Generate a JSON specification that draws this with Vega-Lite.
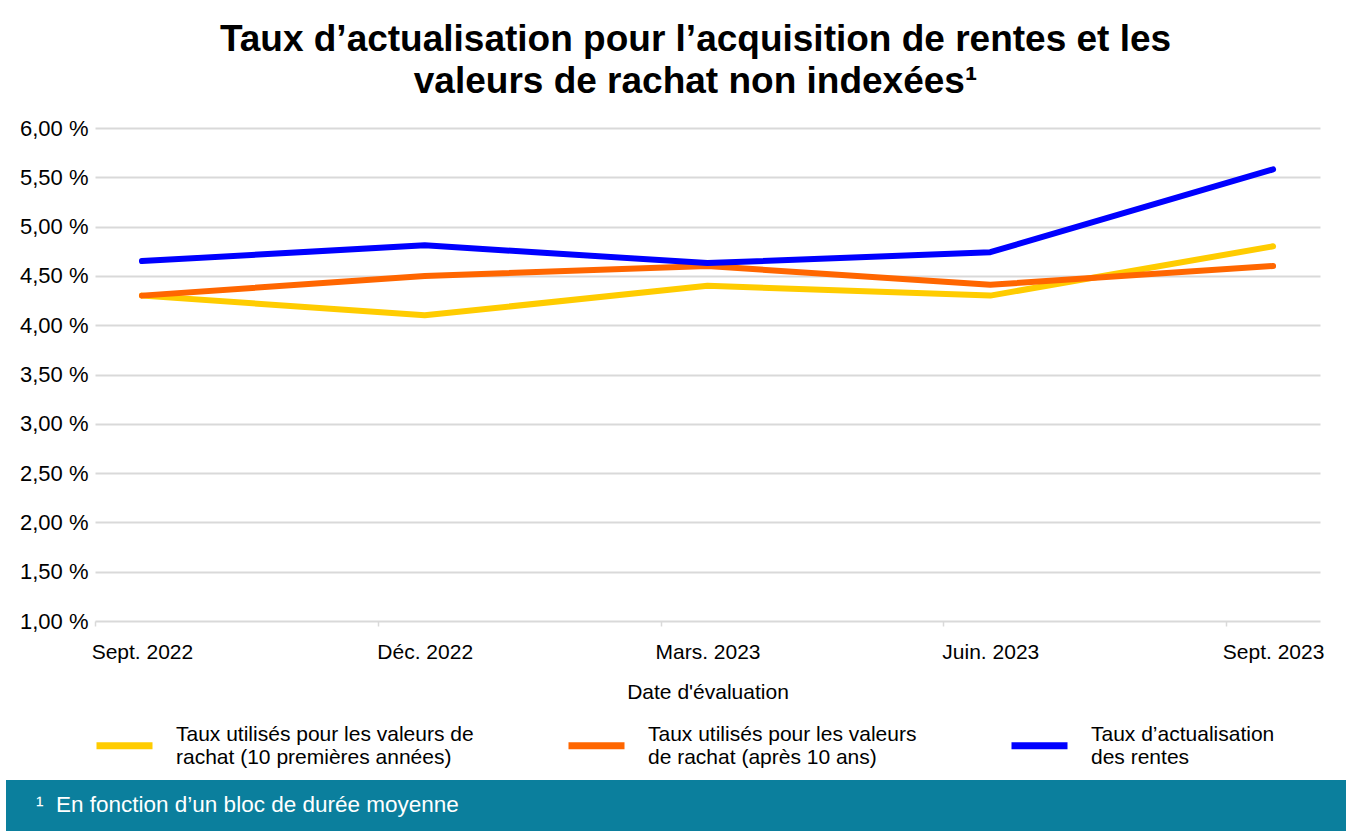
{
  "$schema": "https://vega.github.io/schema/vega-lite/v6.json",
  "padding": {"left": 6, "top": 21, "right": 0, "bottom": 0},
  "spacing": 78,
  "background": "white",
  "config": {"view": {"stroke": null}, "font": "Liberation Sans"},
  "vconcat": [
    {
      "spacing": 0,
      "hconcat": [
        {
          "width": 1,
          "height": 1,
          "data": {"values": [{}]},
          "mark": {"type": "text"},
          "encoding": {"text": {"value": ""}}
        },
        {
          "width": 1225,
          "height": 493,
          "title": {
            "text": ["Taux d’actualisation pour l’acquisition de rentes et les", "valeurs de rachat non indexées¹"],
            "fontSize": 37,
            "fontWeight": "bold",
            "font": "Liberation Sans",
            "color": "black",
            "anchor": "middle",
            "lineHeight": 42,
            "offset": 16,
            "dx": -12
          },
          "data": {
            "values": [
              {"date": "Sept. 2022", "serie": "Taux utilisés pour les valeurs de rachat (10 premières années)", "taux": 4.30},
              {"date": "Déc. 2022", "serie": "Taux utilisés pour les valeurs de rachat (10 premières années)", "taux": 4.10},
              {"date": "Mars. 2023", "serie": "Taux utilisés pour les valeurs de rachat (10 premières années)", "taux": 4.40},
              {"date": "Juin. 2023", "serie": "Taux utilisés pour les valeurs de rachat (10 premières années)", "taux": 4.30},
              {"date": "Sept. 2023", "serie": "Taux utilisés pour les valeurs de rachat (10 premières années)", "taux": 4.80},
              {"date": "Sept. 2022", "serie": "Taux utilisés pour les valeurs de rachat (après 10 ans)", "taux": 4.30},
              {"date": "Déc. 2022", "serie": "Taux utilisés pour les valeurs de rachat (après 10 ans)", "taux": 4.50},
              {"date": "Mars. 2023", "serie": "Taux utilisés pour les valeurs de rachat (après 10 ans)", "taux": 4.60},
              {"date": "Juin. 2023", "serie": "Taux utilisés pour les valeurs de rachat (après 10 ans)", "taux": 4.41},
              {"date": "Sept. 2023", "serie": "Taux utilisés pour les valeurs de rachat (après 10 ans)", "taux": 4.60},
              {"date": "Sept. 2022", "serie": "Taux d’actualisation des rentes", "taux": 4.65},
              {"date": "Déc. 2022", "serie": "Taux d’actualisation des rentes", "taux": 4.81},
              {"date": "Mars. 2023", "serie": "Taux d’actualisation des rentes", "taux": 4.63},
              {"date": "Juin. 2023", "serie": "Taux d’actualisation des rentes", "taux": 4.74},
              {"date": "Sept. 2023", "serie": "Taux d’actualisation des rentes", "taux": 5.58}
            ]
          },
          "mark": {"type": "line", "strokeWidth": 6, "strokeCap": "round", "strokeJoin": "round"},
          "encoding": {
            "x": {
              "field": "date",
              "type": "ordinal",
              "sort": ["Sept. 2022", "Déc. 2022", "Mars. 2023", "Juin. 2023", "Sept. 2023"],
              "scale": {"type": "point", "padding": 0.166},
              "axis": {
                "title": "Date d'évaluation",
                "labelAngle": 0,
                "labelFontSize": 21,
                "labelColor": "black",
                "titleFontSize": 21,
                "titleFontWeight": "normal",
                "titleColor": "black",
                "domain": false,
                "grid": false,
                "tickColor": "#d9d9d9",
                "tickSize": 5,
                "tickWidth": 1.5,
                "tickOffset": -47,
                "labelOffset": 47,
                "labelPadding": 15,
                "titlePadding": 19
              }
            },
            "y": {
              "field": "taux",
              "type": "quantitative",
              "scale": {"domain": [1, 6], "nice": false, "zero": false},
              "axis": {
                "title": null,
                "values": [1, 1.5, 2, 2.5, 3, 3.5, 4, 4.5, 5, 5.5, 6],
                "labelExpr": "replace(format(datum.value, '.2f'), '.', ',') + ' %'",
                "labelFontSize": 22,
                "labelColor": "black",
                "domain": false,
                "ticks": false,
                "gridColor": "#d9d9d9",
                "gridWidth": 2,
                "labelPadding": 7,
                "minExtent": 88
              }
            },
            "color": {
              "field": "serie",
              "type": "nominal",
              "scale": {
                "domain": ["Taux utilisés pour les valeurs de rachat (10 premières années)", "Taux utilisés pour les valeurs de rachat (après 10 ans)", "Taux d’actualisation des rentes"],
                "range": ["#FFCC00", "#FF6600", "#0000FF"]
              },
              "legend": {
                "orient": "none",
                "legendX": 87,
                "legendY": 586,
                "direction": "horizontal",
                "columns": 3,
                "title": null,
                "symbolType": "stroke",
                "symbolStrokeWidth": 7,
                "symbolSize": 3136,
                "labelFontSize": 21,
                "labelColor": "black",
                "labelOffset": 20,
                "labelBaseline": "line-bottom",
                "columnPadding": 80,
                "labelLimit": 400,
                "padding": 0,
                "labelExpr": "datum.label == 'Taux utilisés pour les valeurs de rachat (10 premières années)' ? ['Taux utilisés pour les valeurs de', 'rachat (10 premières années)'] : datum.label == 'Taux utilisés pour les valeurs de rachat (après 10 ans)' ? ['Taux utilisés pour les valeurs', 'de rachat (après 10 ans)'] : ['Taux d’actualisation', 'des rentes']"
              }
            }
          }
        }
      ]
    },
    {
      "width": 1340,
      "height": 51,
      "view": {"fill": "#0b7f9d", "stroke": null},
      "data": {"values": [{}]},
      "mark": {"type": "text"},
      "encoding": {"text": {"value": ""}},
      "title": {
        "text": "¹\u00a0 En fonction d’un bloc de durée moyenne",
        "orient": "top",
        "anchor": "start",
        "frame": "group",
        "offset": -54,
        "baseline": "alphabetic",
        "dx": 30,
        "fontSize": 22.5,
        "fontWeight": "normal",
        "color": "white"
      }
    }
  ]
}
